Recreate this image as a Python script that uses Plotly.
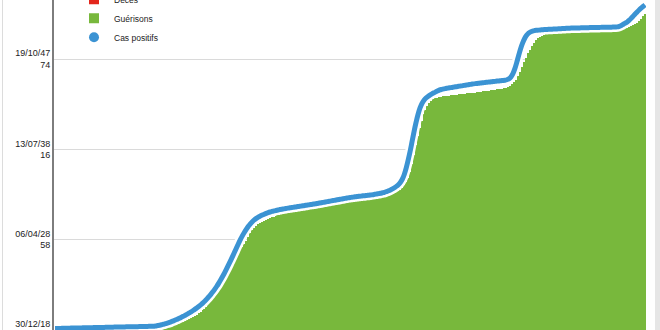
import plotly.graph_objects as go

# ---- data (1 gridline step = 1000 units) ----
days = list(range(300))

cas_positifs = [
    13, 13, 14, 14, 15, 15, 16, 16, 17, 17,
    18, 18, 19, 19, 20, 20, 21, 21, 22, 22,
    23, 23, 24, 24, 25, 25, 26, 26, 27, 27,
    28, 28, 29, 29, 30, 30, 31, 31, 32, 32,
    33, 33, 33, 34, 35, 35, 36, 36, 37, 37,
    38, 41, 45, 49, 54, 60, 66, 73, 80, 88,
    97, 106, 116, 126, 137, 148, 160, 172, 185, 198,
    212, 227, 243, 260, 278, 297, 318, 341, 365, 391,
    419, 449, 481, 516, 553, 592, 633, 676, 720, 765,
    812, 860, 908, 955, 1000, 1042, 1080, 1114, 1145, 1172,
    1196, 1216, 1233, 1247, 1259, 1270, 1280, 1289, 1297, 1304,
    1310, 1316, 1321, 1326, 1331, 1335, 1339, 1343, 1347, 1350,
    1353, 1357, 1360, 1364, 1367, 1371, 1374, 1378, 1381, 1385,
    1388, 1392, 1395, 1399, 1403, 1407, 1411, 1415, 1419, 1423,
    1427, 1431, 1435, 1439, 1443, 1447, 1451, 1455, 1459, 1463,
    1466, 1469, 1472, 1475, 1478, 1480, 1483, 1485, 1488, 1490,
    1493, 1496, 1500, 1504, 1508, 1512, 1517, 1522, 1530, 1539,
    1549, 1560, 1573, 1588, 1607, 1632, 1667, 1720, 1793, 1882,
    1980, 2090, 2200, 2300, 2388, 2458, 2508, 2543, 2567, 2585,
    2600, 2613, 2625, 2636, 2647, 2658, 2664, 2669, 2673, 2677,
    2681, 2684, 2688, 2692, 2695, 2699, 2702, 2706, 2710, 2713,
    2717, 2720, 2724, 2727, 2729, 2732, 2734, 2737, 2740, 2742,
    2745, 2747, 2750, 2752, 2755, 2757, 2760, 2762, 2765, 2770,
    2780, 2800, 2835, 2890, 2962, 3042, 3117, 3179, 3227, 3262,
    3286, 3301, 3310, 3315, 3318, 3320, 3322, 3324, 3326, 3327,
    3329, 3330, 3331, 3332, 3333, 3334, 3335, 3337, 3338, 3340,
    3341, 3342, 3343, 3344, 3344, 3345, 3345, 3346, 3346, 3347,
    3347, 3348, 3348, 3349, 3349, 3350, 3350, 3351, 3351, 3352,
    3352, 3353, 3353, 3354, 3355, 3356, 3362, 3372, 3385, 3398,
    3411, 3430, 3452, 3475, 3498, 3522, 3543, 3563, 3582, 3600,
]

guerisons = [
    0, 0, 0, 0, 0, 0, 0, 0, 0, 0,
    0, 0, 0, 0, 0, 0, 0, 0, 0, 0,
    0, 0, 0, 0, 0, 0, 0, 0, 0, 0,
    0, 0, 0, 0, 0, 0, 0, 0, 0, 0,
    0, 0, 0, 0, 0, 0, 0, 0, 5, 8,
    11, 14, 17, 20, 24, 28, 33, 38, 44, 50,
    57, 63, 69, 76, 83, 90, 98, 106, 115, 127,
    140, 152, 165, 180, 196, 214, 234, 256, 280, 307,
    337, 370, 405, 443, 482, 522, 563, 605, 648, 692,
    740, 780, 815, 850, 885, 918, 950, 985, 1030, 1070,
    1105, 1130, 1150, 1168, 1183, 1196, 1207, 1217, 1228, 1238,
    1246, 1253, 1260, 1266, 1272, 1278, 1283, 1288, 1293, 1298,
    1302, 1306, 1310, 1314, 1318, 1322, 1326, 1330, 1334, 1338,
    1342, 1346, 1350, 1354, 1358, 1362, 1366, 1370, 1374, 1378,
    1382, 1386, 1390, 1393, 1396, 1399, 1402, 1405, 1408, 1411,
    1414, 1417, 1420, 1423, 1426, 1429, 1432, 1435, 1438, 1441,
    1444, 1447, 1450, 1454, 1458, 1462, 1467, 1472, 1478, 1485,
    1492, 1500, 1510, 1522, 1536, 1552, 1572, 1598, 1632, 1680,
    1750, 1840, 1940, 2045, 2145, 2235, 2315, 2385, 2440, 2482,
    2515, 2538, 2553, 2564, 2572, 2578, 2583, 2586, 2589, 2592,
    2594, 2597, 2600, 2603, 2606, 2608, 2611, 2613, 2616, 2618,
    2620, 2622, 2624, 2627, 2630, 2633, 2637, 2640, 2643, 2647,
    2650, 2653, 2657, 2660, 2663, 2667, 2670, 2673, 2677, 2680,
    2688, 2700, 2718, 2742, 2772, 2810, 2856, 2908, 2962, 3015,
    3062, 3105, 3145, 3180, 3208, 3230, 3247, 3260, 3270, 3277,
    3280, 3282, 3283, 3284, 3285, 3286, 3286, 3287, 3287, 3288,
    3288, 3289, 3289, 3290, 3291, 3292, 3293, 3294, 3295, 3296,
    3297, 3298, 3299, 3300, 3301, 3302, 3303, 3304, 3305, 3306,
    3307, 3308, 3309, 3310, 3311, 3312, 3318, 3326, 3334, 3340,
    3345, 3355, 3367, 3380, 3392, 3400, 3420, 3445, 3472, 3500,
]

deces = [
    0, 0, 0, 0, 0, 0, 0, 0, 0, 0,
    0, 0, 0, 0, 0, 0, 0, 0, 0, 0,
    0, 0, 0, 0, 0, 0, 0, 0, 0, 0,
    0, 0, 0, 0, 0, 0, 0, 0, 0, 0,
    0, 0, 0, 0, 0, 0, 0, 0, 1, 1,
    1, 1, 1, 1, 1, 2, 2, 2, 2, 2,
    2, 3, 3, 3, 3, 3, 4, 4, 4, 4,
    5, 5, 5, 6, 6, 6, 7, 7, 8, 8,
    9, 9, 10, 10, 11, 12, 12, 13, 14, 15,
    16, 17, 18, 19, 20, 21, 22, 22, 23, 23,
    24, 24, 25, 25, 25, 26, 26, 26, 27, 27,
    27, 27, 28, 28, 28, 28, 29, 29, 29, 29,
    29, 30, 30, 30, 30, 30, 31, 31, 31, 31,
    31, 31, 32, 32, 32, 32, 32, 32, 33, 33,
    33, 33, 33, 33, 34, 34, 34, 34, 34, 34,
    35, 35, 35, 35, 35, 35, 35, 36, 36, 36,
    36, 36, 36, 36, 37, 37, 37, 37, 37, 38,
    38, 38, 39, 39, 40, 40, 41, 42, 43, 44,
    45, 46, 47, 48, 49, 50, 51, 51, 52, 52,
    53, 53, 53, 54, 54, 54, 54, 55, 55, 55,
    55, 55, 56, 56, 56, 56, 56, 56, 57, 57,
    57, 57, 57, 57, 57, 58, 58, 58, 58, 58,
    58, 58, 59, 59, 59, 59, 59, 59, 59, 60,
    60, 61, 62, 63, 64, 65, 66, 67, 68, 68,
    69, 69, 70, 70, 70, 70, 71, 71, 71, 71,
    71, 71, 71, 72, 72, 72, 72, 72, 72, 72,
    72, 72, 73, 73, 73, 73, 73, 73, 73, 73,
    73, 73, 74, 74, 74, 74, 74, 74, 74, 74,
    74, 74, 74, 75, 75, 75, 75, 75, 75, 76,
    76, 76, 77, 77, 78, 78, 79, 79, 80, 80,
]

y_tickvals = [0, 1000, 2000, 3000]
y_ticktext = ["30/12/18<br>00", "06/04/28<br>58", "13/07/38<br>16", "19/10/47<br>74"]

RED = "#e3261c"
GREEN = "#78b83c"
BLUE = "#3b93d3"

fig = go.Figure()
fig.add_trace(go.Bar(x=days, y=deces, marker=dict(color=RED, line=dict(width=0)),
                     showlegend=False, name="Décès"))
fig.add_trace(go.Bar(x=days, y=guerisons, marker=dict(color=GREEN, line=dict(width=0)),
                     showlegend=False, name="Guérisons"))
fig.add_trace(go.Scatter(x=days, y=cas_positifs, mode="lines",
                         line=dict(color="white", width=10, shape="spline", smoothing=1),
                         showlegend=False, hoverinfo="skip"))
fig.add_trace(go.Scatter(x=days, y=cas_positifs, mode="lines",
                         line=dict(color=BLUE, width=5, shape="spline", smoothing=1),
                         showlegend=False, name="Cas positifs"))
# legend entries
fig.add_trace(go.Scatter(x=[None], y=[None], mode="markers", name="Décès",
                         marker=dict(symbol="square", size=10, color=RED)))
fig.add_trace(go.Scatter(x=[None], y=[None], mode="markers", name="Guérisons",
                         marker=dict(symbol="square", size=10, color=GREEN)))
fig.add_trace(go.Scatter(x=[None], y=[None], mode="markers", name="Cas positifs",
                         marker=dict(symbol="circle", size=10, color=BLUE)))

fig.update_layout(
    width=660, height=330,
    margin=dict(l=54, r=14, t=0, b=0, autoexpand=False),
    paper_bgcolor="white", plot_bgcolor="white",
    barmode="overlay", bargap=0,
    font=dict(family="Liberation Sans, Arial, sans-serif", color="#222"),
    showlegend=True,
    legend=dict(x=(74 - 54) / 592, y=1.046, xanchor="left", yanchor="top",
                bgcolor="rgba(0,0,0,0)", borderwidth=0,
                font=dict(size=8.5, color="#222"), tracegroupgap=0),
    xaxis=dict(range=[-0.5, 299.5], visible=False, fixedrange=True),
    yaxis=dict(range=[-4, 3654], tickvals=y_tickvals, ticktext=y_ticktext,
               ticklabeloverflow="allow",
               showgrid=True, gridcolor="#dadada", gridwidth=1,
               zeroline=False, showline=True, linecolor="#7d7d7d", linewidth=2,
               ticks="", tickfont=dict(size=9, color="#222"), fixedrange=True),
    shapes=[
        dict(type="line", xref="paper", yref="paper", x0=(2.5 - 54) / 592, x1=(2.5 - 54) / 592,
             y0=0, y1=1, line=dict(color="#dcdcdc", width=1)),
        dict(type="rect", xref="paper", yref="paper", x0=(655 - 54) / 592, x1=(661 - 54) / 592,
             y0=0, y1=1, line=dict(width=0), fillcolor="#e6e6e6"),
    ],
)

fig.write_html("out.html")
